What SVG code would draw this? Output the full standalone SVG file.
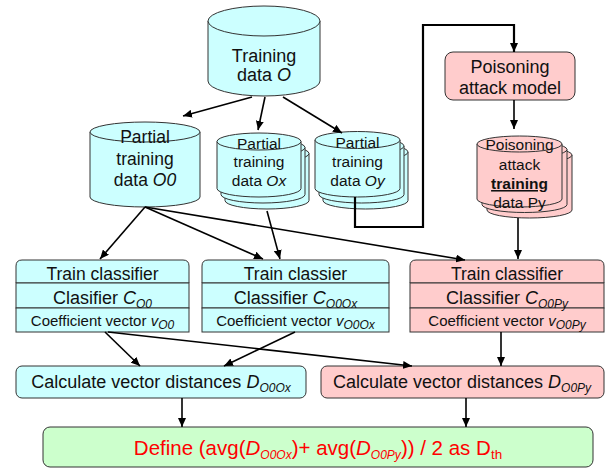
<svg xmlns="http://www.w3.org/2000/svg" width="613" height="470" viewBox="0 0 613 470">
  <style>
    text { font-family: "Liberation Sans", Arial, sans-serif; fill: #111; }
    .c { text-anchor: middle; }
    .cyan { fill: #ccffff; stroke: #333; stroke-width: 1; }
    .pink { fill: #ffcccc; stroke: #333; stroke-width: 1; }
    .green { fill: #ccffcc; stroke: #333; stroke-width: 1; }
    .wire { fill: none; stroke: #000; stroke-width: 1.6; }
    .thick { fill: none; stroke: #000; stroke-width: 2.2; }
    .it { font-style: italic; }
    .sub { font-size: 12px; font-style: italic; }
    .red { fill: #ff0000; }
  </style>
  <defs>
    <marker id="arrow" markerUnits="userSpaceOnUse" markerWidth="10" markerHeight="8" refX="9" refY="4" orient="auto">
      <path d="M0,0 L9,4 L0,8 Z" fill="#000"/>
    </marker>
  </defs>

  <!-- Training data O -->
  <g id="training-data">
    <path class="cyan" d="M208,21 V81 A56,15 0 0 0 320,81 V21"/>
    <ellipse class="cyan" cx="264" cy="21" rx="56" ry="15"/>
    <text class="c" x="264" y="62" font-size="18">Training</text>
    <text class="c" x="264" y="81" font-size="18">data <tspan class="it">O</tspan></text>
  </g>

  <!-- Partial training data O0 -->
  <g id="partial-o0">
    <path class="cyan" d="M90,132 V197 A55,10 0 0 0 200,197 V132"/>
    <ellipse class="cyan" cx="145" cy="132" rx="55" ry="10"/>
    <text class="c" x="145" y="143" font-size="17.5">Partial</text>
    <text class="c" x="145" y="165" font-size="17.5">training</text>
    <text class="c" x="145" y="186" font-size="17.5">data <tspan class="it">O0</tspan></text>
  </g>

  <!-- Partial training data Ox (stacked) -->
  <g id="partial-ox">
    <path class="cyan" d="M225,153.5 V200.5 A42,8.5 0 0 0 309,200.5 V153.5"/>
    <ellipse class="cyan" cx="267" cy="153.5" rx="42" ry="8.5"/>
    <path class="cyan" d="M221,147.5 V194.5 A42,8.5 0 0 0 305,194.5 V147.5"/>
    <ellipse class="cyan" cx="263" cy="147.5" rx="42" ry="8.5"/>
    <path class="cyan" d="M217,141.5 V188.5 A42,8.5 0 0 0 301,188.5 V141.5"/>
    <ellipse class="cyan" cx="259" cy="141.5" rx="42" ry="8.5"/>
    <text class="c" x="259" y="149" font-size="15.5">Partial</text>
    <text class="c" x="259" y="167" font-size="15.5">training</text>
    <text class="c" x="259" y="186" font-size="15.5">data <tspan class="it">Ox</tspan></text>
  </g>

  <!-- Partial training data Oy (stacked) -->
  <g id="partial-oy">
    <path class="cyan" d="M323,152 V200.5 A42.5,8.5 0 0 0 408,200.5 V152"/>
    <ellipse class="cyan" cx="365.5" cy="152" rx="42.5" ry="8.5"/>
    <path class="cyan" d="M319,146 V194.5 A42.5,8.5 0 0 0 404,194.5 V146"/>
    <ellipse class="cyan" cx="361.5" cy="146" rx="42.5" ry="8.5"/>
    <path class="cyan" d="M315,140 V188.5 A42.5,8.5 0 0 0 400,188.5 V140"/>
    <ellipse class="cyan" cx="357.5" cy="140" rx="42.5" ry="8.5"/>
    <text class="c" x="357.5" y="148" font-size="15.5">Partial</text>
    <text class="c" x="357.5" y="167" font-size="15.5">training</text>
    <text class="c" x="357.5" y="186" font-size="15.5">data <tspan class="it">Oy</tspan></text>
  </g>

  <!-- Poisoning attack model -->
  <g id="attack-model">
    <rect class="pink" x="445" y="52" width="130" height="48" rx="8"/>
    <text class="c" x="510" y="73" font-size="18">Poisoning</text>
    <text class="c" x="510" y="94" font-size="18">attack model</text>
  </g>

  <!-- Poisoning attack training data Py (stacked) -->
  <g id="poison-py">
    <path class="pink" d="M487,155 V210 A42.5,8 0 0 0 572,210 V155"/>
    <ellipse class="pink" cx="529.5" cy="155" rx="42.5" ry="8"/>
    <path class="pink" d="M482,149.5 V204.5 A42.5,8 0 0 0 567,204.5 V149.5"/>
    <ellipse class="pink" cx="524.5" cy="149.5" rx="42.5" ry="8"/>
    <path class="pink" d="M477,144 V199 A42.5,8 0 0 0 562,199 V144"/>
    <ellipse class="pink" cx="519.5" cy="144" rx="42.5" ry="8"/>
    <text class="c" x="519.5" y="150" font-size="15.5">Poisoning</text>
    <text class="c" x="519.5" y="170" font-size="15.5">attack</text>
    <text class="c" x="519.5" y="189" font-size="15.5" font-weight="bold" text-decoration="underline">training</text>
    <text class="c" x="519.5" y="208" font-size="15.5">data Py</text>
  </g>

  <!-- Train classifier (O0) -->
  <g id="train-o0">
    <path class="cyan" d="M16,283 V266 Q16,260 22,260 H183 Q189,260 189,266 V283 Z"/>
    <rect class="cyan" x="16" y="283" width="173" height="25"/>
    <rect class="cyan" x="16" y="308" width="173" height="24"/>
    <text class="c" x="102.5" y="280" font-size="17.5">Train classifier</text>
    <text class="c" x="102.5" y="304" font-size="18">Clasifier <tspan class="it">C</tspan><tspan class="sub" dy="4">O0</tspan></text>
    <text class="c" x="102.5" y="326" font-size="15">Coefficient vector <tspan class="it">v</tspan><tspan class="sub" font-size="11" dy="3">O0</tspan></text>
  </g>

  <!-- Train classifier (O0Ox) -->
  <g id="train-o0ox">
    <path class="cyan" d="M202,283 V266 Q202,260 208,260 H383 Q389,260 389,266 V283 Z"/>
    <rect class="cyan" x="202" y="283" width="187" height="25"/>
    <rect class="cyan" x="202" y="308" width="187" height="24"/>
    <text class="c" x="295.5" y="280" font-size="17.5">Train classier</text>
    <text class="c" x="295.5" y="304" font-size="18">Classifier <tspan class="it">C</tspan><tspan class="sub" dy="4">O0Ox</tspan></text>
    <text class="c" x="295.5" y="326" font-size="15">Coefficient vector <tspan class="it">v</tspan><tspan class="sub" font-size="11" dy="3">O0Ox</tspan></text>
  </g>

  <!-- Train classifier (O0Py) -->
  <g id="train-o0py">
    <path class="pink" d="M410,283 V266 Q410,260 416,260 H598 Q604,260 604,266 V283 Z"/>
    <rect class="pink" x="410" y="283" width="194" height="25"/>
    <rect class="pink" x="410" y="308" width="194" height="24"/>
    <text class="c" x="507" y="280" font-size="17.5">Train classifier</text>
    <text class="c" x="507" y="304" font-size="18">Classifier <tspan class="it">C</tspan><tspan class="sub" dy="4">O0Py</tspan></text>
    <text class="c" x="507" y="326" font-size="15">Coefficient vector <tspan class="it">v</tspan><tspan class="sub" font-size="11" dy="3">O0Py</tspan></text>
  </g>

  <!-- Distance calculations -->
  <g id="dist-o0ox">
    <rect class="cyan" x="16" y="366" width="290" height="32" rx="6"/>
    <text class="c" x="161" y="388" font-size="18">Calculate vector distances <tspan class="it">D</tspan><tspan class="sub" dy="4">O0Ox</tspan></text>
  </g>
  <g id="dist-o0py">
    <rect class="pink" x="321" y="366" width="283" height="32" rx="6"/>
    <text class="c" x="462" y="388" font-size="18">Calculate vector distances <tspan class="it">D</tspan><tspan class="sub" dy="4">O0Py</tspan></text>
  </g>

  <!-- Threshold definition -->
  <g id="threshold">
    <rect class="green" x="43" y="427" width="550" height="40" rx="7"/>
    <text class="c red" x="318" y="455" font-size="20.5">Define (avg(<tspan class="it">D</tspan><tspan class="sub red" font-size="13.5" dy="4">O0Ox</tspan><tspan dy="-4">)+ avg(</tspan><tspan class="it">D</tspan><tspan class="sub red" font-size="13.5" dy="4">O0Py</tspan><tspan dy="-4">)) / 2 as D</tspan><tspan font-size="13.5" dy="4">th</tspan></text>
  </g>

  <!-- Connectors -->
  <g id="connectors">
    <path class="wire" marker-end="url(#arrow)" d="M252,97 L183,116"/>
    <path class="wire" marker-end="url(#arrow)" d="M265,97 L258,130"/>
    <path class="wire" marker-end="url(#arrow)" d="M283,97 L342,133"/>
    <path class="thick" marker-end="url(#arrow)" d="M355,197 V227 H423 V25 H514 V52"/>
    <path class="wire" marker-end="url(#arrow)" d="M514,100 V129"/>
    <path class="wire" marker-end="url(#arrow)" d="M145,207 L100,259"/>
    <path class="wire" marker-end="url(#arrow)" d="M145,207 L263,259"/>
    <path class="wire" marker-end="url(#arrow)" d="M145,207 L465,260"/>
    <path class="wire" marker-end="url(#arrow)" d="M267,211 L280,259"/>
    <path class="wire" marker-end="url(#arrow)" d="M518,218 V259"/>
    <path class="wire" marker-end="url(#arrow)" d="M105,332 L140,366"/>
    <path class="wire" marker-end="url(#arrow)" d="M108,332 L412,366"/>
    <path class="wire" marker-end="url(#arrow)" d="M295,332 L224,366"/>
    <path class="wire" marker-end="url(#arrow)" d="M501,332 V366"/>
    <path class="wire" marker-end="url(#arrow)" d="M182,398 V427"/>
    <path class="wire" marker-end="url(#arrow)" d="M466,398 V427"/>
  </g>
</svg>
